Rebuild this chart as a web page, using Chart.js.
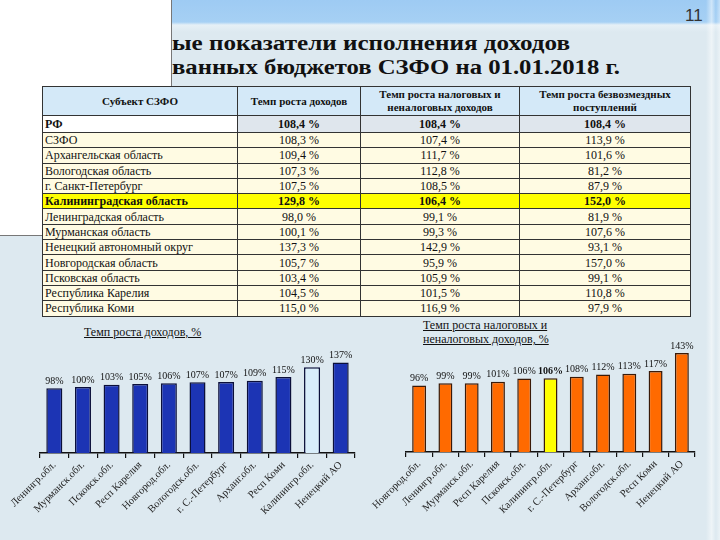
<!DOCTYPE html>
<html>
<head>
<meta charset="utf-8">
<script src="https://cdn.jsdelivr.net/npm/chart.js@4/dist/chart.umd.min.js"></script>
<style>
  html, body { margin: 0; padding: 0; }
  body {
    width: 720px; height: 540px; position: relative; overflow: hidden;
    background: #dde9f0;
  }
  .serif, table, td, th, .title, .ctitle { font-family: "Liberation Serif", "Times New Roman", serif; }
  .band {
    position: absolute; left: 0; top: 0; width: 720px; height: 32px;
    background: linear-gradient(to bottom, #9ecbf3 0px, #a6d0f4 22px, #e6f0f6 25px, #dde9f0 32px);
  }
  .edge {
    position: absolute; right: 0; top: 0; width: 14px; height: 540px;
    background: linear-gradient(to right, rgba(255,255,255,0) 0, rgba(255,255,255,0.5) 40%, rgba(255,255,255,0) 70%, rgba(255,255,255,0.4) 100%);
  }
  .pagenum {
    position: absolute; left: 685px; top: 6px;
    font-family: "Liberation Sans", Arial, sans-serif; font-size: 17px; color: #333;
  }
  .title {
    position: absolute; left: 172px; font-weight: bold; font-size: 20px; color: #111;
    white-space: nowrap; transform-origin: left center;
  }
  .cover {
    position: absolute; left: 0; top: 0; width: 171px; height: 235px;
    background: #fff; border-right: 1px solid #777; border-bottom: 1px solid #777;
  }
  table {
    position: absolute; left: 42px; top: 86px; border-collapse: collapse;
    table-layout: fixed; width: 648px;
  }
  td, th { border: 1px solid #333; padding: 0 2px; font-size: 12px; color: #111; }
  th { background: #d4e9f8; font-size: 11px; font-weight: bold; height: 28px; line-height: 13px; }
  td { height: 14.3px; line-height: 14px; background: #fffbe3; text-align: center; white-space: nowrap; }
  td:first-child { text-align: left; }
  tr.rf td { background: #dfe6ed; font-weight: bold; height: 16px; }
  tr.rf td:first-child { background: #fff; }
  tr.hl td { background: #ffff00; font-weight: bold; }
  .ctitle {
    position: absolute; font-size: 12px; text-decoration: underline; color: #111; line-height: 14px;
  }
  canvas { position: absolute; }
</style>
</head>
<body>
<div class="band"></div>
<div class="edge"></div>
<div class="pagenum">11</div>
<div class="title" id="t1" style="top:32px">ые показатели исполнения доходов</div>
<div class="title" id="t2" style="top:56px">ванных бюджетов СЗФО на 01.01.2018 г.</div>
<div class="cover"></div>

<table id="tbl">
  <colgroup><col style="width:195px"><col style="width:123px"><col style="width:159px"><col style="width:171px"></colgroup>
  <thead>
    <tr><th>Субъект СЗФО</th><th>Темп роста доходов</th><th>Темп роста налоговых и неналоговых доходов</th><th>Темп роста безвозмездных поступлений</th></tr>
  </thead>
  <tbody id="tbody"></tbody>
</table>

<div class="ctitle" style="left:84px; top:325px;">Темп роста доходов, %</div>
<div class="ctitle" style="left:423px; top:318px;">Темп роста налоговых и<br>неналоговых доходов, %</div>

<canvas id="chartIncome" width="370" height="200" style="left:0; top:340px;"></canvas>
<canvas id="chartTax" width="350" height="200" style="left:370px; top:340px;"></canvas>

<script>
// table data
const regions = ["РФ", "СЗФО", "Архангельская область", "Вологодская область", "г. Санкт-Петербург",
  "Калининградская область", "Ленинградская область", "Мурманская область", "Ненецкий автономный округ",
  "Новгородская область", "Псковская область", "Республика Карелия", "Республика Коми"];
const incomeGrowth = [108.4, 108.3, 109.4, 107.3, 107.5, 129.8, 98.0, 100.1, 137.3, 105.7, 103.4, 104.5, 115.0];
const taxGrowth = [108.4, 107.4, 111.7, 112.8, 108.5, 106.4, 99.1, 99.3, 142.9, 95.9, 105.9, 101.5, 116.9];
const grantGrowth = [108.4, 113.9, 101.6, 81.2, 87.9, 152.0, 81.9, 107.6, 93.1, 157.0, 99.1, 110.8, 97.9];

// left chart
const incomeLabels = ["Ленингр.обл.", "Мурманск.обл.", "Псковск.обл.", "Респ Карелия", "Новгород.обл.",
  "Вологодск.обл.", "г. С.-Петербург", "Арханг.обл.", "Респ Коми", "Калинингр.обл.", "Ненецкий АО"];
const incomeValues = [98.0, 100.1, 103.4, 104.5, 105.7, 107.3, 107.5, 109.4, 115.0, 129.8, 137.3];
const incomeText = ["98%", "100%", "103%", "105%", "106%", "107%", "107%", "109%", "115%", "130%", "137%"];

// right chart
const taxLabels = ["Новгород.обл.", "Ленингр.обл.", "Мурманск.обл.", "Респ Карелия", "Псковск.обл.",
  "Калинингр.обл.", "г. С.-Петербург", "Арханг.обл.", "Вологодск.обл.", "Респ Коми", "Ненецкий АО"];
const taxValues = [95.9, 99.1, 99.3, 101.5, 105.9, 106.4, 108.5, 111.7, 112.8, 116.9, 142.9];
const taxText = ["96%", "99%", "99%", "101%", "106%", "106%", "108%", "112%", "113%", "117%", "143%"];

const fmt = v => v.toFixed(1).replace(".", ",") + " %";

// fill the table
const tbody = document.getElementById("tbody");
regions.forEach((name, i) => {
  const row = document.createElement("tr");
  if (i === 0) row.className = "rf";
  if (name === "Калининградская область") row.className = "hl";
  row.innerHTML = `
    <td>${name}</td>
    <td>${fmt(incomeGrowth[i])}</td>
    <td>${fmt(taxGrowth[i])}</td>
    <td>${fmt(grantGrowth[i])}</td>`;
  tbody.appendChild(row);
});

// stretch title lines to the width they have on the slide
function fitWidth(id, w) {
  const el = document.getElementById(id);
  el.style.transform = "scaleX(" + (w / el.offsetWidth) + ")";
}
fitWidth("t1", 398);
fitWidth("t2", 448);

Chart.defaults.font.family = '"Liberation Serif", "Times New Roman", serif';
Chart.defaults.color = "#222";

// draws "98%" etc above each bar
const valueLabels = {
  id: "valueLabels",
  afterDatasetsDraw(chart) {
    const ctx = chart.ctx;
    const ds = chart.data.datasets[0];
    chart.getDatasetMeta(0).data.forEach((bar, i) => {
      ctx.save();
      ctx.font = (ds.boldIndex === i ? "bold " : "") + "10px " + Chart.defaults.font.family;
      ctx.fillStyle = "#111";
      ctx.textAlign = "center";
      ctx.textBaseline = "bottom";
      ctx.fillText(ds.texts[i], bar.x, bar.y - 2);
      ctx.restore();
    });
  }
};

function makeChart(id, labels, values, texts, colors, border, pad, axisH, barPct, boldIndex) {
  return new Chart(document.getElementById(id).getContext("2d"), {
    type: "bar",
    data: {
      labels: labels,
      datasets: [{
        data: values,
        texts: texts,
        backgroundColor: colors,
        borderColor: border,
        borderWidth: 1.5,
        barPercentage: barPct,
        categoryPercentage: 1,
        boldIndex: boldIndex
      }]
    },
    options: {
      responsive: false,
      animation: false,
      layout: { padding: pad },
      plugins: { legend: { display: false }, tooltip: { enabled: false } },
      scales: {
        y: { display: false, min: 0, max: 150 },
        x: {
          afterFit: s => { s.height = axisH; },
          border: { color: "#111", width: 1.5 },
          grid: { drawOnChartArea: false, tickLength: 5, color: "#111", lineWidth: 1.2 },
          ticks: { minRotation: 45, maxRotation: 45, autoSkip: false, font: { size: 10.5 }, color: "#222", padding: 1 }
        }
      }
    },
    plugins: [valueLabels]
  });
}

const incomeColors = incomeLabels.map(l => l === "Калинингр.обл." ? "#d8edfa" : "#1c34b4");
makeChart("chartIncome", incomeLabels, incomeValues, incomeText, incomeColors, "#0b0f3a",
  { left: 40, right: 15, top: 14, bottom: 0 }, 87, 0.56, -1);

const taxColors = taxLabels.map(l => l === "Калинингр.обл." ? "#ffff00" : "#ff6a00");
makeChart("chartTax", taxLabels, taxValues, taxText, taxColors, "#3a1a08",
  { left: 36, right: 25, top: 8, bottom: 0 }, 88, 0.53, 5);
</script>
</body>
</html>
